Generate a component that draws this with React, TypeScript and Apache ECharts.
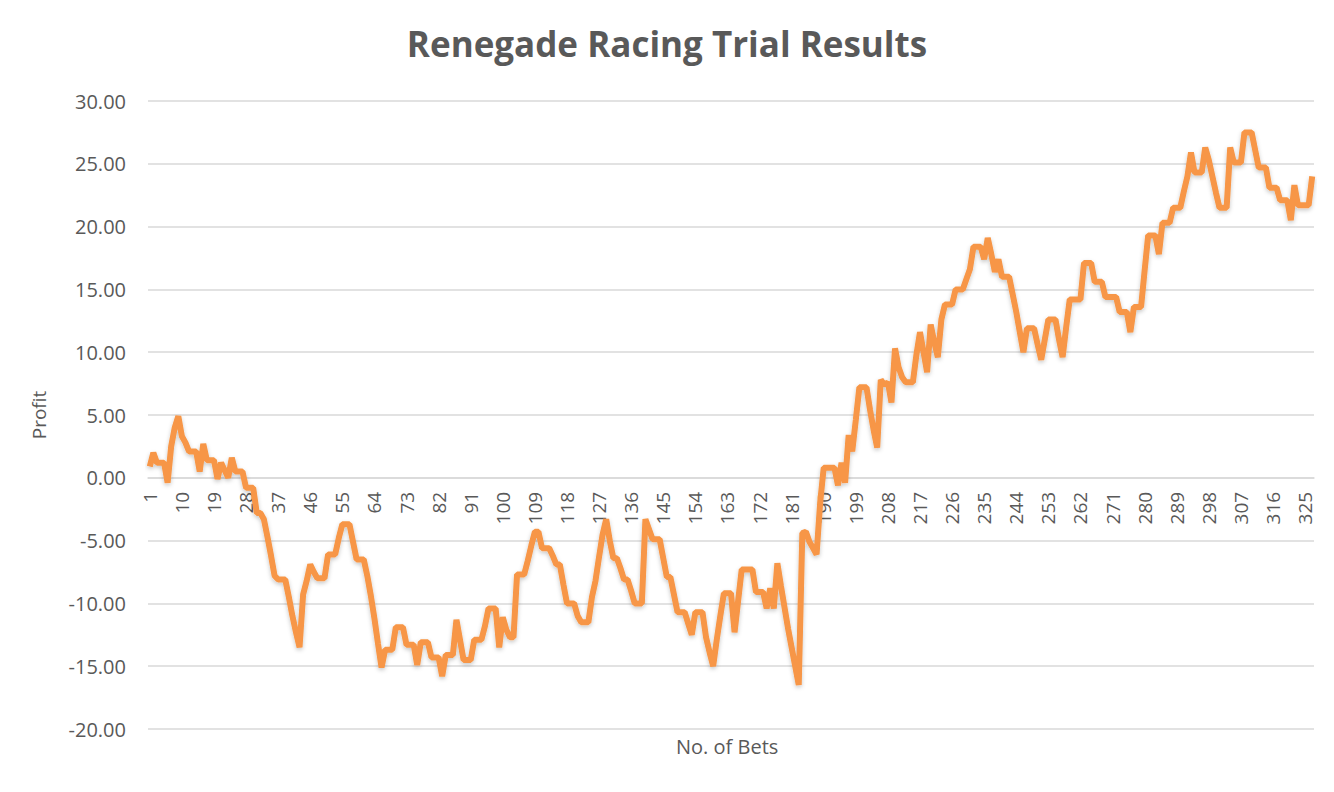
import * as echarts from "echarts";
import { useEffect, useRef } from "react";

// cumulative profit after each bet
const profit = [
  0.9, 2.0, 1.2, 1.2, 1.2, -0.4, 2.5, 4.0, 4.9, 3.3,
  2.8, 2.1, 2.1, 2.1, 0.5, 2.7, 1.4, 1.4, 1.4, -0.1,
  1.2, 0.6, 0.0, 1.6, 0.5, 0.5, 0.5, -0.8, -0.8, -0.8,
  -2.8, -2.8, -3.3, -4.7, -6.2, -7.8, -8.1, -8.1, -8.1, -9.5,
  -11.0, -12.3, -13.5, -9.3, -8.2, -6.9, -7.5, -8.0, -8.0, -8.0,
  -6.1, -6.1, -6.1, -4.8, -3.7, -3.7, -3.7, -5.1, -6.5, -6.5,
  -6.5, -7.8, -9.4, -11.2, -13.2, -15.1, -13.7, -13.7, -13.7, -11.9,
  -11.9, -11.9, -13.3, -13.3, -13.3, -14.9, -13.1, -13.1, -13.1, -14.3,
  -14.3, -14.3, -15.8, -14.1, -14.1, -14.1, -11.3, -12.9, -14.5, -14.5,
  -14.5, -12.9, -12.9, -12.9, -11.8, -10.4, -10.4, -10.4, -13.5, -11.1,
  -12.1, -12.7, -12.7, -7.7, -7.7, -7.7, -6.6, -5.4, -4.3, -4.3,
  -5.6, -5.6, -5.6, -6.2, -6.9, -6.9, -8.5, -10.0, -10.0, -10.0,
  -11.0, -11.5, -11.5, -11.5, -9.5, -8.2, -6.3, -4.5, -3.3, -5.0,
  -6.4, -6.4, -7.2, -8.1, -8.1, -9.0, -10.0, -10.0, -10.0, -3.3,
  -4.1, -4.9, -4.9, -4.9, -6.4, -7.9, -7.9, -9.3, -10.7, -10.7,
  -10.7, -11.6, -12.5, -10.7, -10.7, -10.7, -12.7, -13.9, -15.0, -12.9,
  -11.0, -9.2, -9.2, -9.2, -12.3, -9.8, -7.3, -7.3, -7.3, -7.3,
  -9.1, -9.1, -9.1, -10.4, -8.8, -10.4, -6.8, -8.6, -10.3, -12.0,
  -13.5, -15.0, -16.5, -4.4, -4.3, -5.1, -5.6, -6.1, -2.0, 0.8,
  0.8, 0.8, 0.8, -0.6, 1.2, -0.4, 3.4, 2.1, 4.6, 7.2,
  7.2, 7.2, 5.4, 3.8, 2.4, 7.8, 7.4, 7.6, 6.0, 10.3,
  8.8, 8.0, 7.6, 7.6, 7.6, 9.8, 11.6, 10.0, 8.4, 12.2,
  10.8, 9.6, 12.6, 13.8, 13.8, 13.8, 15.0, 15.0, 15.0, 15.8,
  16.6, 18.4, 18.4, 18.4, 17.4, 19.1, 17.8, 16.4, 17.4, 16.0,
  16.0, 16.0, 14.6, 13.2, 11.6, 10.0, 11.9, 11.9, 11.9, 10.6,
  9.4, 11.0, 12.6, 12.6, 12.6, 11.0, 9.6, 12.0, 14.2, 14.2,
  14.2, 14.2, 17.1, 17.1, 17.1, 15.6, 15.6, 15.6, 14.4, 14.4,
  14.4, 14.4, 13.2, 13.2, 13.2, 11.6, 13.6, 13.6, 13.6, 16.5,
  19.3, 19.3, 19.3, 17.8, 20.3, 20.3, 20.3, 21.5, 21.5, 21.5,
  22.8, 24.0, 25.9, 24.3, 24.3, 24.3, 26.3, 25.3, 24.0, 22.7,
  21.5, 21.5, 21.5, 26.3, 25.1, 25.1, 25.1, 27.5, 27.5, 27.5,
  26.1, 24.7, 24.7, 24.7, 23.1, 23.1, 23.1, 22.1, 22.1, 22.1,
  20.5, 23.3, 21.7, 21.7, 21.7, 21.7, 24.0,
];

const bets = profit.map((_, i) => String(i + 1));

const TEXT = "#595959";
const GRID = "#d9d9d9";
const FONT = "'Open Sans', sans-serif";

// plot area edges in px
const TOP = 101;
const BOTTOM = 63;
const Y_MIN = -20;
const Y_MAX = 30;

export default function App() {
  const ref = useRef<HTMLDivElement | null>(null);

  useEffect(() => {
    if (!ref.current) {
      return;
    }

    // lift the category axis up to the zero line (Excel style)
    const plotHeight = 792 - TOP - BOTTOM;
    const zeroLift = (plotHeight * (0 - Y_MIN)) / (Y_MAX - Y_MIN);

    const chart = echarts.init(ref.current, undefined, { renderer: "svg" });
    chart.setOption({
      animation: false,
      backgroundColor: "#ffffff",
      textStyle: { fontFamily: FONT },
      title: {
        text: "Renegade Racing Trial Results",
        left: "center",
        top: 21,
        textStyle: { color: TEXT, fontSize: 35, fontWeight: "bold", fontFamily: FONT }
      },
      grid: { left: 148, right: 20, top: TOP, bottom: BOTTOM },
      xAxis: {
        type: "category",
        data: bets,
        boundaryGap: true,
        offset: -zeroLift,
        axisLine: { onZero: false, lineStyle: { color: GRID, width: 1.5 } },
        axisTick: { show: false },
        axisLabel: {
          interval: 8,
          rotate: 90,
          color: TEXT,
          fontSize: 19,
          fontFamily: FONT,
          margin: 14
        },
        splitLine: { show: false }
      },
      yAxis: {
        type: "value",
        min: Y_MIN,
        max: Y_MAX,
        interval: 5,
        name: "Profit",
        nameLocation: "middle",
        nameRotate: 90,
        nameGap: 100,
        nameTextStyle: { color: TEXT, fontSize: 19, fontFamily: FONT },
        axisLine: { show: false },
        axisTick: { show: false },
        axisLabel: {
          color: TEXT,
          fontSize: 20,
          fontFamily: FONT,
          margin: 22,
          formatter: (value: number) => value.toFixed(2)
        },
        splitLine: { lineStyle: { color: GRID, width: 1.5 } }
      },
      graphic: [
        {
          type: "text",
          left: 676,
          top: 736,
          style: { text: "No. of Bets", fill: TEXT, fontSize: 20, fontFamily: FONT }
        }
      ],
      series: [
        {
          name: "Profit",
          type: "line",
          data: profit,
          symbol: "none",
          lineStyle: {
            color: "#f79646",
            width: 6,
            shadowColor: "rgba(0,0,0,0.22)",
            shadowBlur: 4,
            shadowOffsetY: 2
          }
        }
      ]
    });

    return () => {
      chart.dispose();
    };
  }, []);

  return (
    <div
      ref={ref}
      style={{ position: "fixed", left: 0, top: 0, width: 1334, height: 792 }}
    />
  );
}
